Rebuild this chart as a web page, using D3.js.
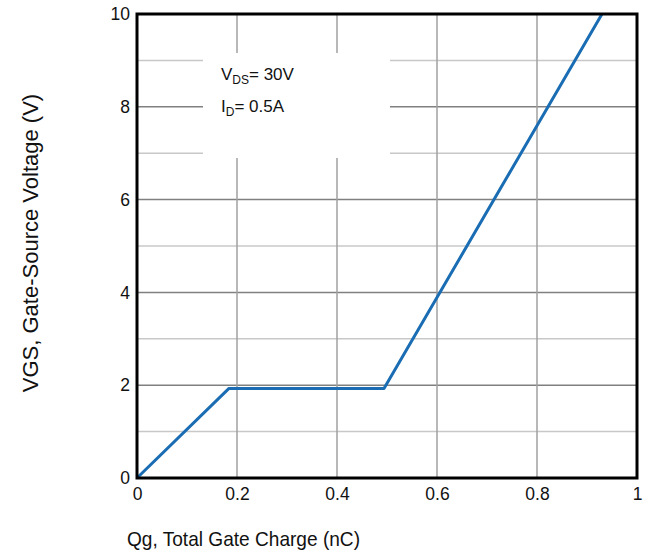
<!DOCTYPE html>
<html>
<head>
<meta charset="utf-8">
<script src="https://cdn.jsdelivr.net/npm/d3@7"></script>
<style>
  body { margin: 0; background: #fff; }
  svg text { font-family: "Liberation Sans", Arial, sans-serif; }
</style>
</head>
<body>
<svg id="chart"></svg>
<script>
'use strict';

const WIDTH = 653;
const HEIGHT = 556;

// gate charge curve
const qg = [0, 0.184, 0.494, 0.93];
const vgs = [0, 1.93, 1.93, 10];

const xTicks = [0, 0.2, 0.4, 0.6, 0.8, 1];
const yTicks = [0, 2, 4, 6, 8, 10];
const yMinor = [1, 3, 5, 7, 9];

const COLOR = {
    LINE: '#1a6db3',
    MAJOR: '#808080',
    MINOR: '#c8c8c8',
    TEXT: '#111111'
};

const margin = {left: 137, right: 16, top: 14, bottom: 78};

const svg = d3.select('#chart').attr('width', WIDTH).attr('height', HEIGHT);

const x = d3.scaleLinear().domain([0, 1]).range([margin.left, WIDTH - margin.right]);
const y = d3.scaleLinear().domain([0, 10]).range([HEIGHT - margin.bottom, margin.top]);

// grid
svg.append('g').selectAll('line')
    .data(yMinor)
    .enter()
    .append('line')
    .attr('x1', x(0)).attr('x2', x(1))
    .attr('y1', d => y(d)).attr('y2', d => y(d))
    .attr('stroke', COLOR.MINOR).attr('stroke-width', 1.5);

svg.append('g').selectAll('line')
    .data(yTicks.slice(1, -1))
    .enter()
    .append('line')
    .attr('x1', x(0)).attr('x2', x(1))
    .attr('y1', d => y(d)).attr('y2', d => y(d))
    .attr('stroke', COLOR.MAJOR).attr('stroke-width', 1.5);

svg.append('g').selectAll('line')
    .data(xTicks.slice(1, -1))
    .enter()
    .append('line')
    .attr('x1', d => x(d)).attr('x2', d => x(d))
    .attr('y1', y(0)).attr('y2', y(10))
    .attr('stroke', '#a0a0a0').attr('stroke-width', 1.5);

// white box behind the conditions
svg.append('rect')
    .attr('x', 203).attr('y', 53)
    .attr('width', 187).attr('height', 105)
    .attr('fill', '#fff');

// curve
const line = d3.line()
    .x(d => x(d[0]))
    .y(d => y(d[1]));

svg.append('path')
    .datum(d3.zip(qg, vgs))
    .attr('d', line)
    .attr('fill', 'none')
    .attr('stroke', COLOR.LINE)
    .attr('stroke-width', 3)
    .attr('stroke-linejoin', 'round');

// frame
svg.append('rect')
    .attr('x', x(0)).attr('y', y(10))
    .attr('width', x(1) - x(0)).attr('height', y(0) - y(10))
    .attr('fill', 'none')
    .attr('stroke', '#000')
    .attr('stroke-width', 3);

// axes
const xAxis = svg.append('g')
    .attr('transform', 'translate(0,' + y(0) + ')')
    .call(d3.axisBottom(x).tickValues(xTicks).tickSize(0).tickPadding(10)
        .tickFormat(d => d === 0 || d === 1 ? d3.format('d')(d) : d3.format('.1f')(d)));
xAxis.select('.domain').remove();
xAxis.selectAll('text').attr('font-size', 17.5).attr('fill', COLOR.TEXT)
    .style('font-family', '"Liberation Sans", Arial, sans-serif');

const yAxis = svg.append('g')
    .attr('transform', 'translate(' + x(0) + ',0)')
    .call(d3.axisLeft(y).tickValues(yTicks).tickSize(0).tickPadding(7));
yAxis.select('.domain').remove();
yAxis.selectAll('text').attr('font-size', 17.5).attr('fill', COLOR.TEXT)
    .style('font-family', '"Liberation Sans", Arial, sans-serif');

// titles
svg.append('text')
    .attr('x', 127).attr('y', 546)
    .attr('font-size', 21)
    .attr('textLength', 233)
    .attr('lengthAdjust', 'spacingAndGlyphs')
    .attr('fill', COLOR.TEXT)
    .text('Qg, Total Gate Charge (nC)');

svg.append('text')
    .attr('transform', 'translate(38,243) rotate(-90)')
    .attr('text-anchor', 'middle')
    .attr('font-size', 22)
    .attr('fill', COLOR.TEXT)
    .text('VGS, Gate-Source Voltage (V)');

// conditions
const cond = [
    {main: 'V', sub: 'DS', rest: '= 30V', y: 80},
    {main: 'I', sub: 'D', rest: '= 0.5A', y: 112}
];
cond.forEach(function(c) {
    let t = svg.append('text')
        .attr('x', 221).attr('y', c.y)
        .attr('font-size', 17)
        .attr('fill', COLOR.TEXT);
    t.append('tspan').text(c.main);
    t.append('tspan').attr('font-size', 12).attr('dy', 4).text(c.sub);
    t.append('tspan').attr('dy', -4).text(c.rest);
});
</script>
</body>
</html>
